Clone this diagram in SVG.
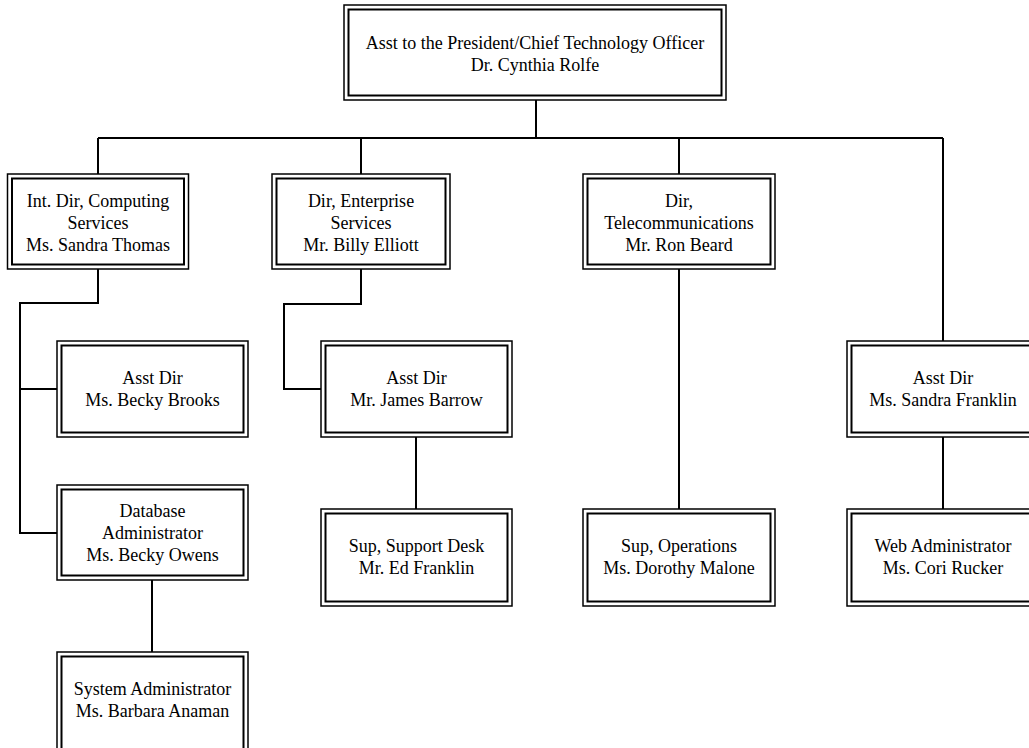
<svg xmlns="http://www.w3.org/2000/svg" width="1029" height="748" viewBox="0 0 1029 748">
<style>
.o{fill:#fff;stroke:#000;stroke-width:1.5}
.i{fill:none;stroke:#000;stroke-width:2}
.t{font-family:"Liberation Serif","Times New Roman",serif;font-size:18px;fill:#000;text-anchor:middle}
.c{fill:none;stroke:#000;stroke-width:2}
</style>
<rect width="1029" height="748" fill="#fff"/>
<g id="connectors">
<path class="c" d="M536 100V138M98 138H943M98 138V174M361 138V174M679 138V174M943 138V342"/>
<path class="c" d="M98 269V303H20V533H57M20 389H57M152 580V652"/>
<path class="c" d="M361 269V304H284V389H321M416 437V509"/>
<path class="c" d="M679 269V509"/>
<path class="c" d="M943 437V509"/>
</g>
<g id="cto"><rect class="o" x="344" y="5" width="382" height="95"/><rect class="i" x="348.5" y="9.5" width="373" height="86"/>
<text class="t" x="535" y="49">Asst to the President/Chief Technology Officer</text><text class="t" x="535" y="71">Dr. Cynthia Rolfe</text></g>
<g id="computing"><rect class="o" x="7.5" y="174" width="181" height="95"/><rect class="i" x="12" y="178.5" width="172" height="86"/>
<text class="t" x="98" y="207">Int. Dir, Computing</text><text class="t" x="98" y="229">Services</text><text class="t" x="98" y="251">Ms. Sandra Thomas</text></g>
<g id="enterprise"><rect class="o" x="272" y="174" width="178" height="95"/><rect class="i" x="276.5" y="178.5" width="169" height="86"/>
<text class="t" x="361" y="207">Dir, Enterprise</text><text class="t" x="361" y="229">Services</text><text class="t" x="361" y="251">Mr. Billy Elliott</text></g>
<g id="telecom"><rect class="o" x="583" y="174" width="192" height="95"/><rect class="i" x="587.5" y="178.5" width="183" height="86"/>
<text class="t" x="679" y="207">Dir,</text><text class="t" x="679" y="229">Telecommunications</text><text class="t" x="679" y="251">Mr. Ron Beard</text></g>
<g id="brooks"><rect class="o" x="57" y="341" width="191" height="96"/><rect class="i" x="61.5" y="345.5" width="182" height="87"/>
<text class="t" x="152.5" y="384">Asst Dir</text><text class="t" x="152.5" y="406">Ms. Becky Brooks</text></g>
<g id="owens"><rect class="o" x="57" y="485" width="191" height="95"/><rect class="i" x="61.5" y="489.5" width="182" height="86"/>
<text class="t" x="152.5" y="517">Database</text><text class="t" x="152.5" y="539">Administrator</text><text class="t" x="152.5" y="561">Ms. Becky Owens</text></g>
<g id="anaman"><rect class="o" x="57" y="652" width="191" height="110"/><rect class="i" x="61.5" y="656.5" width="182" height="101"/>
<text class="t" x="152.5" y="695">System Administrator</text><text class="t" x="152.5" y="717">Ms. Barbara Anaman</text></g>
<g id="barrow"><rect class="o" x="321" y="341" width="191" height="96"/><rect class="i" x="325.5" y="345.5" width="182" height="87"/>
<text class="t" x="416.5" y="384">Asst Dir</text><text class="t" x="416.5" y="406">Mr. James Barrow</text></g>
<g id="supportdesk"><rect class="o" x="321" y="509" width="191" height="97"/><rect class="i" x="325.5" y="513.5" width="182" height="88"/>
<text class="t" x="416.5" y="552">Sup, Support Desk</text><text class="t" x="416.5" y="574">Mr. Ed Franklin</text></g>
<g id="operations"><rect class="o" x="583" y="509" width="192" height="97"/><rect class="i" x="587.5" y="513.5" width="183" height="88"/>
<text class="t" x="679" y="552">Sup, Operations</text><text class="t" x="679" y="574">Ms. Dorothy Malone</text></g>
<g id="sfranklin"><rect class="o" x="847" y="341" width="192" height="96"/><rect class="i" x="851.5" y="345.5" width="183" height="87"/>
<text class="t" x="943" y="384">Asst Dir</text><text class="t" x="943" y="406">Ms. Sandra Franklin</text></g>
<g id="rucker"><rect class="o" x="847" y="509" width="192" height="97"/><rect class="i" x="851.5" y="513.5" width="183" height="88"/>
<text class="t" x="943" y="552">Web Administrator</text><text class="t" x="943" y="574">Ms. Cori Rucker</text></g>
</svg>
